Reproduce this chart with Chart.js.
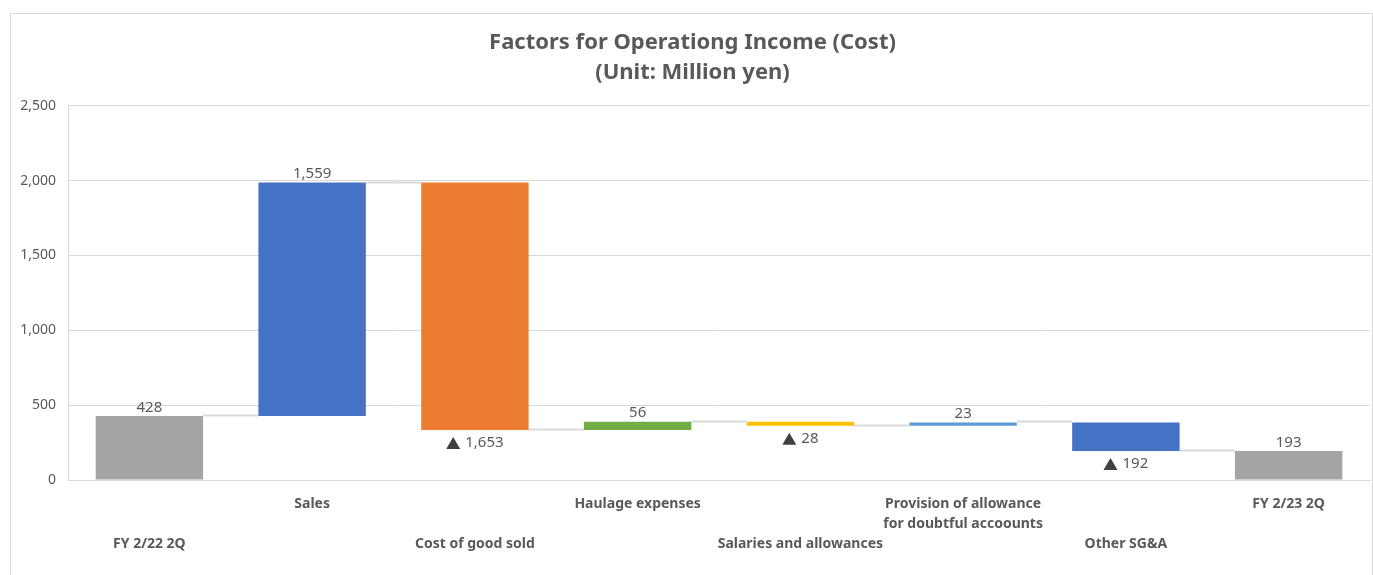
<!DOCTYPE html>
<html>
<head>
<meta charset="utf-8">
<script src="https://cdn.jsdelivr.net/npm/chart.js@4"></script>
<style>
  html, body { margin: 0; padding: 0; background: #fff; }
  #wrap {
    position: absolute; left: 10px; top: 13px;
    width: 1361px; height: 570px;
    border: 1px solid #d9d9d9; border-bottom: none;
  }
</style>
</head>
<body>
<div id="wrap"><canvas id="chart"></canvas></div>
<script>
const categories = ['FY 2/22 2Q', 'Sales', 'Cost of good sold', 'Haulage expenses',
  'Salaries and allowances', 'Provision of allowance|for doubtful accoounts', 'Other SG&A', 'FY 2/23 2Q'];
const changes = [428, 1559, -1653, 56, -28, 23, -192, 193];
const isTotal = [true, false, false, false, false, false, false, true];
const barColors = ['#A5A5A5', '#4472C4', '#ED7D31', '#70AD47', '#FFC000', '#5B9BD5', '#4472C4', '#A5A5A5'];
const yTicks = [0, 500, 1000, 1500, 2000, 2500];

// floating ranges for the waterfall
const ranges = [];
const levels = [];
let running = 0;
changes.forEach((v, i) => {
    if (isTotal[i]) {
        ranges.push([0, v]);
        running = v;
    } else {
        ranges.push([running, running + v]);
        running += v;
    }
    levels.push(running);
});

const fmt = n => Math.abs(n).toLocaleString('en-US');

// staggered x labels: even index on the lower row
const tickLabels = categories.map((c, i) => {
    const lines = c.split('|');
    return i % 2 === 0 ? ['', ''].concat(lines) : lines;
});

const waterfallExtras = {
    id: 'waterfallExtras',
    beforeDatasetsDraw(chart) {
        const ctx = chart.ctx;
        const meta = chart.getDatasetMeta(0);
        const y = chart.scales.y;
        ctx.save();
        ctx.strokeStyle = '#d9d9d9';
        ctx.lineWidth = 2;
        for (let i = 0; i < meta.data.length - 1; i++) {
            const a = meta.data[i], b = meta.data[i + 1];
            const yy = Math.round(y.getPixelForValue(levels[i])) - 0.5;
            ctx.beginPath();
            ctx.moveTo(a.x + a.width / 2, yy);
            ctx.lineTo(b.x - b.width / 2, yy);
            ctx.stroke();
        }
        ctx.restore();
    },
    afterDatasetsDraw(chart) {
        const ctx = chart.ctx;
        const meta = chart.getDatasetMeta(0);
        const y = chart.scales.y;
        ctx.save();
        ctx.font = '15px "Noto Sans"';
        ctx.fillStyle = '#595959';
        meta.data.forEach((bar, i) => {
            const v = changes[i];
            const top = y.getPixelForValue(Math.max(ranges[i][0], ranges[i][1]));
            const bottom = y.getPixelForValue(Math.min(ranges[i][0], ranges[i][1]));
            if (v >= 0) {
                ctx.textAlign = 'center';
                ctx.textBaseline = 'bottom';
                ctx.fillText(fmt(v), bar.x, top - 1);
            } else {
                const txt = fmt(v);
                const tw = ctx.measureText(txt).width;
                const triW = 14, gap = 5;
                const total = triW + gap + tw;
                const x0 = bar.x - total / 2;
                const cy = bottom + 13;
                ctx.fillStyle = '#404040';
                ctx.beginPath();
                ctx.moveTo(x0, cy + 6);
                ctx.lineTo(x0 + triW, cy + 6);
                ctx.lineTo(x0 + triW / 2, cy - 6);
                ctx.closePath();
                ctx.fill();
                ctx.fillStyle = '#595959';
                ctx.textAlign = 'left';
                ctx.textBaseline = 'middle';
                ctx.fillText(txt, x0 + triW + gap, cy);
            }
        });
        ctx.restore();
    }
};

new Chart(document.getElementById('chart'), {
    type: 'bar',
    data: {
        labels: tickLabels,
        datasets: [{
            data: ranges,
            backgroundColor: barColors,
            borderWidth: 0,
            borderSkipped: false,
            barPercentage: 0.66,
            categoryPercentage: 1.0
        }]
    },
    options: {
        responsive: true,
        maintainAspectRatio: false,
        animation: false,
        layout: { padding: { left: 4, right: 2, bottom: 0, top: 0 } },
        plugins: {
            legend: { display: false },
            tooltip: { enabled: false },
            title: {
                display: true,
                text: ['Factors for Operationg Income (Cost)', '(Unit: Million yen)'],
                color: '#595959',
                font: { family: '"Noto Sans"', size: 22, weight: 'bold', lineHeight: 1.36 },
                padding: { top: 14, bottom: 18 }
            }
        },
        scales: {
            x: {
                grid: { display: false, drawTicks: false },
                border: { color: '#d9d9d9', width: 1 },
                ticks: {
                    autoSkip: false,
                    maxRotation: 0,
                    padding: 14,
                    color: '#595959',
                    font: { family: '"Noto Sans"', size: 14, weight: 'bold', lineHeight: 1.42 }
                },
                afterFit(scale) { scale.height = 104; }
            },
            y: {
                min: 0,
                max: 2500,
                afterBuildTicks(scale) { scale.ticks = yTicks.map(v => ({ value: v })); },
                grid: { color: '#d9d9d9', drawTicks: false },
                border: { color: '#d9d9d9', width: 1 },
                ticks: {
                    padding: 12,
                    color: '#595959',
                    font: { family: '"Noto Sans"', size: 14 },
                    callback: v => v.toLocaleString('en-US')
                },
                afterFit(scale) { scale.width = 53; }
            }
        }
    },
    plugins: [waterfallExtras]
});
</script>
</body>
</html>
